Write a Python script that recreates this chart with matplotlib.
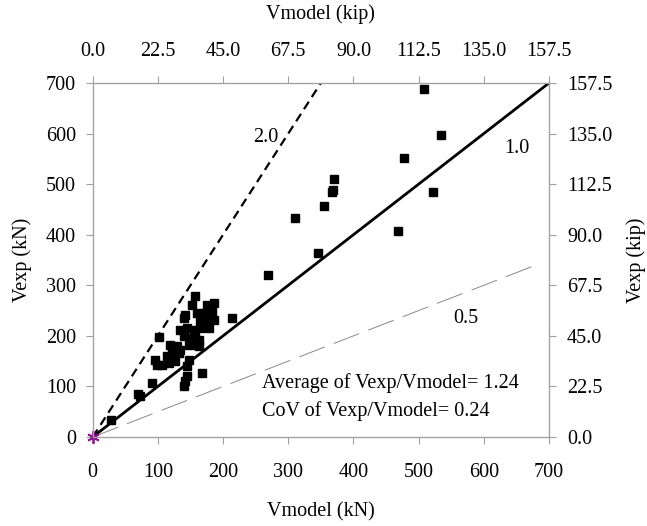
import matplotlib
matplotlib.use("Agg")
import matplotlib.pyplot as plt
import numpy as np

plt.rcParams['font.family'] = ['Liberation Serif', 'DejaVu Serif']

# Data (kN)
v_model = [28, 70, 72.8, 90.8, 101, 139.5, 142, 144.6, 167.7,
           95.9, 98.5, 106, 113.8, 116.4, 119, 121.5, 124, 126.7, 129, 131.8, 134.4,
           144.6, 147, 147, 149.7, 139.5, 157.4, 160, 162.6, 162.6,
           134.4, 144.6, 154.9, 165, 178, 139.5, 142, 165, 178, 185.6,
           160, 170, 183, 152.3, 175.4, 185.6, 157.4, 213.8,
           268.6, 311, 346, 355, 367, 369, 369.7, 467.7, 478, 507.7, 522.5, 535]
v_exp = [34, 85.6, 80.4, 106.7, 197.6, 100, 110, 120, 126.5,
         152.8, 143, 143, 159.4, 146, 182.5, 176, 162.7, 149.5, 179, 166, 172.6,
         139.7, 152.8, 182.5, 195.7, 199, 199, 182.5, 192.4, 179,
         212, 215.4, 212, 215.4, 215.4, 235, 241.8, 232, 232, 232,
         245, 245, 248, 261.5, 261.5, 264.8, 278, 235,
         319.5, 433, 363, 457, 485, 489, 511, 406.5, 552, 689, 484, 597]

ratios = [2.0, 1.0, 0.5]
ratio_labels = ["2.0", "1.0", "0.5"]
kip_ticks = [0.0, 22.5, 45.0, 67.5, 90.0, 112.5, 135.0, 157.5]
kn_ticks = [0, 100, 200, 300, 400, 500, 600, 700]
avg_ratio = 1.24
cov_ratio = 0.24

W, H = 647, 526
fs = 14.5
fig = plt.figure(figsize=(W/100, H/100), dpi=100)
ax = fig.add_axes([92.7/W, 1-437/H, (549-92.7)/W, (437-83)/H])

gray = '#a0a0a0'
ax.plot([0, 700/ratios[0]], [0, 700], color='black', lw=1.6, ls=(0, (4, 2.5)))
ax.plot([0, 700], [0, 700*ratios[1]], color='black', lw=2.0)
ax.plot([0, 682], [0, 682*ratios[2]], color='#888888', lw=0.7, ls=(0, (28, 10)))
ax.plot(v_model, v_exp, ls='none', marker='s', ms=5.2, color='black')
ax.plot([0], [0], marker=(6, 2, 0), color='#8B1A8B', ms=9, mew=1.3, clip_on=False, zorder=5)

ax.text(265, 593, ratio_labels[0], fontsize=fs, ha='center', va='center')
ax.text(651, 571, ratio_labels[1], fontsize=fs, ha='center', va='center')
ax.text(573, 235, ratio_labels[2], fontsize=fs, ha='center', va='center')
fig.text(262/W, 1-383/H, f"Average of Vexp/Vmodel= {avg_ratio:.2f}", fontsize=fs, va='center', ha='left')
fig.text(262/W, 1-411.5/H, f"CoV of Vexp/Vmodel= {cov_ratio:.2f}", fontsize=fs, va='center', ha='left')

ax.set_xlim(0, 700)
ax.set_ylim(0, 700)
ax.set_xticks(kn_ticks)
ax.set_yticks(kn_ticks)
ax.set_xticklabels([str(t) for t in kn_ticks])
ax.set_yticklabels([str(t) for t in kn_ticks])

ax2 = ax.twiny()
ax2.set_xlim(0, 157.5)
ax2.set_xticks(kip_ticks)
ax2.set_xticklabels([f"{t:.1f}" for t in kip_ticks])
ax3 = ax.twinx()
ax3.set_ylim(0, 157.5)
ax3.set_yticks(kip_ticks)
ax3.set_yticklabels([f"{t:.1f}" for t in kip_ticks])

for a in (ax, ax2, ax3):
    for s in a.spines.values():
        s.set_color(gray)
        s.set_linewidth(0.8)
    a.tick_params(direction='out', length=5, width=0.8, color=gray, labelsize=fs)
ax.tick_params(axis='x', pad=14)
ax.tick_params(axis='y', pad=7)
ax2.tick_params(axis='x', pad=11)
ax3.tick_params(axis='y', pad=8)

fig.text((92.7+549)/2/W, 1-512/H, "Vmodel (kN)", fontsize=fs, ha='center', va='center')
fig.text((92.7+549)/2/W, 1-14/H, "Vmodel (kip)", fontsize=fs, ha='center', va='center')
fig.text(22/W, 1-260/H, "Vexp (kN)", fontsize=fs, ha='center', va='center', rotation=90)
fig.text(636/W, 1-260/H, "Vexp (kip)", fontsize=fs, ha='center', va='center', rotation=90)

fig.savefig("out.png", dpi=100)
